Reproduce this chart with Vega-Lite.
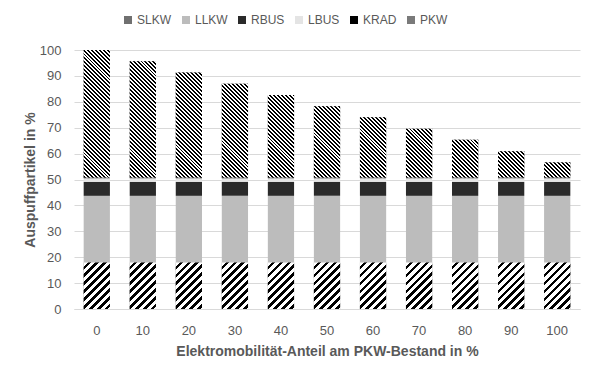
{
  "$schema": "https://vega.github.io/schema/vega-lite/v6.json",
  "width": 506,
  "height": 259,
  "autosize": {"type": "none"},
  "padding": {"left": 74, "top": 50, "right": 17, "bottom": 67},
  "background": "white",
  "params": [
    {"name": "pkwStops", "value": [
      {"offset": 0.000, "color": "#000"}, {"offset": 0.0125, "color": "#000"}, {"offset": 0.0125, "color": "#fff"}, {"offset": 0.025, "color": "#fff"},
      {"offset": 0.025, "color": "#000"}, {"offset": 0.0375, "color": "#000"}, {"offset": 0.0375, "color": "#fff"}, {"offset": 0.050, "color": "#fff"},
      {"offset": 0.050, "color": "#000"}, {"offset": 0.0625, "color": "#000"}, {"offset": 0.0625, "color": "#fff"}, {"offset": 0.075, "color": "#fff"},
      {"offset": 0.075, "color": "#000"}, {"offset": 0.0875, "color": "#000"}, {"offset": 0.0875, "color": "#fff"}, {"offset": 0.100, "color": "#fff"},
      {"offset": 0.100, "color": "#000"}, {"offset": 0.1125, "color": "#000"}, {"offset": 0.1125, "color": "#fff"}, {"offset": 0.125, "color": "#fff"},
      {"offset": 0.125, "color": "#000"}, {"offset": 0.1375, "color": "#000"}, {"offset": 0.1375, "color": "#fff"}, {"offset": 0.150, "color": "#fff"},
      {"offset": 0.150, "color": "#000"}, {"offset": 0.1625, "color": "#000"}, {"offset": 0.1625, "color": "#fff"}, {"offset": 0.175, "color": "#fff"},
      {"offset": 0.175, "color": "#000"}, {"offset": 0.1875, "color": "#000"}, {"offset": 0.1875, "color": "#fff"}, {"offset": 0.200, "color": "#fff"},
      {"offset": 0.200, "color": "#000"}, {"offset": 0.2125, "color": "#000"}, {"offset": 0.2125, "color": "#fff"}, {"offset": 0.225, "color": "#fff"},
      {"offset": 0.225, "color": "#000"}, {"offset": 0.2375, "color": "#000"}, {"offset": 0.2375, "color": "#fff"}, {"offset": 0.250, "color": "#fff"},
      {"offset": 0.250, "color": "#000"}, {"offset": 0.2625, "color": "#000"}, {"offset": 0.2625, "color": "#fff"}, {"offset": 0.275, "color": "#fff"},
      {"offset": 0.275, "color": "#000"}, {"offset": 0.2875, "color": "#000"}, {"offset": 0.2875, "color": "#fff"}, {"offset": 0.300, "color": "#fff"},
      {"offset": 0.300, "color": "#000"}, {"offset": 0.3125, "color": "#000"}, {"offset": 0.3125, "color": "#fff"}, {"offset": 0.325, "color": "#fff"},
      {"offset": 0.325, "color": "#000"}, {"offset": 0.3375, "color": "#000"}, {"offset": 0.3375, "color": "#fff"}, {"offset": 0.350, "color": "#fff"},
      {"offset": 0.350, "color": "#000"}, {"offset": 0.3625, "color": "#000"}, {"offset": 0.3625, "color": "#fff"}, {"offset": 0.375, "color": "#fff"},
      {"offset": 0.375, "color": "#000"}, {"offset": 0.3875, "color": "#000"}, {"offset": 0.3875, "color": "#fff"}, {"offset": 0.400, "color": "#fff"},
      {"offset": 0.400, "color": "#000"}, {"offset": 0.4125, "color": "#000"}, {"offset": 0.4125, "color": "#fff"}, {"offset": 0.425, "color": "#fff"},
      {"offset": 0.425, "color": "#000"}, {"offset": 0.4375, "color": "#000"}, {"offset": 0.4375, "color": "#fff"}, {"offset": 0.450, "color": "#fff"},
      {"offset": 0.450, "color": "#000"}, {"offset": 0.4625, "color": "#000"}, {"offset": 0.4625, "color": "#fff"}, {"offset": 0.475, "color": "#fff"},
      {"offset": 0.475, "color": "#000"}, {"offset": 0.4875, "color": "#000"}, {"offset": 0.4875, "color": "#fff"}, {"offset": 0.500, "color": "#fff"},
      {"offset": 0.500, "color": "#000"}, {"offset": 0.5125, "color": "#000"}, {"offset": 0.5125, "color": "#fff"}, {"offset": 0.525, "color": "#fff"},
      {"offset": 0.525, "color": "#000"}, {"offset": 0.5375, "color": "#000"}, {"offset": 0.5375, "color": "#fff"}, {"offset": 0.550, "color": "#fff"},
      {"offset": 0.550, "color": "#000"}, {"offset": 0.5625, "color": "#000"}, {"offset": 0.5625, "color": "#fff"}, {"offset": 0.575, "color": "#fff"},
      {"offset": 0.575, "color": "#000"}, {"offset": 0.5875, "color": "#000"}, {"offset": 0.5875, "color": "#fff"}, {"offset": 0.600, "color": "#fff"},
      {"offset": 0.600, "color": "#000"}, {"offset": 0.6125, "color": "#000"}, {"offset": 0.6125, "color": "#fff"}, {"offset": 0.625, "color": "#fff"},
      {"offset": 0.625, "color": "#000"}, {"offset": 0.6375, "color": "#000"}, {"offset": 0.6375, "color": "#fff"}, {"offset": 0.650, "color": "#fff"},
      {"offset": 0.650, "color": "#000"}, {"offset": 0.6625, "color": "#000"}, {"offset": 0.6625, "color": "#fff"}, {"offset": 0.675, "color": "#fff"},
      {"offset": 0.675, "color": "#000"}, {"offset": 0.6875, "color": "#000"}, {"offset": 0.6875, "color": "#fff"}, {"offset": 0.700, "color": "#fff"},
      {"offset": 0.700, "color": "#000"}, {"offset": 0.7125, "color": "#000"}, {"offset": 0.7125, "color": "#fff"}, {"offset": 0.725, "color": "#fff"},
      {"offset": 0.725, "color": "#000"}, {"offset": 0.7375, "color": "#000"}, {"offset": 0.7375, "color": "#fff"}, {"offset": 0.750, "color": "#fff"},
      {"offset": 0.750, "color": "#000"}, {"offset": 0.7625, "color": "#000"}, {"offset": 0.7625, "color": "#fff"}, {"offset": 0.775, "color": "#fff"},
      {"offset": 0.775, "color": "#000"}, {"offset": 0.7875, "color": "#000"}, {"offset": 0.7875, "color": "#fff"}, {"offset": 0.800, "color": "#fff"},
      {"offset": 0.800, "color": "#000"}, {"offset": 0.8125, "color": "#000"}, {"offset": 0.8125, "color": "#fff"}, {"offset": 0.825, "color": "#fff"},
      {"offset": 0.825, "color": "#000"}, {"offset": 0.8375, "color": "#000"}, {"offset": 0.8375, "color": "#fff"}, {"offset": 0.850, "color": "#fff"},
      {"offset": 0.850, "color": "#000"}, {"offset": 0.8625, "color": "#000"}, {"offset": 0.8625, "color": "#fff"}, {"offset": 0.875, "color": "#fff"},
      {"offset": 0.875, "color": "#000"}, {"offset": 0.8875, "color": "#000"}, {"offset": 0.8875, "color": "#fff"}, {"offset": 0.900, "color": "#fff"},
      {"offset": 0.900, "color": "#000"}, {"offset": 0.9125, "color": "#000"}, {"offset": 0.9125, "color": "#fff"}, {"offset": 0.925, "color": "#fff"},
      {"offset": 0.925, "color": "#000"}, {"offset": 0.9375, "color": "#000"}, {"offset": 0.9375, "color": "#fff"}, {"offset": 0.950, "color": "#fff"},
      {"offset": 0.950, "color": "#000"}, {"offset": 0.9625, "color": "#000"}, {"offset": 0.9625, "color": "#fff"}, {"offset": 0.975, "color": "#fff"},
      {"offset": 0.975, "color": "#000"}, {"offset": 0.9875, "color": "#000"}, {"offset": 0.9875, "color": "#fff"}, {"offset": 1.000, "color": "#fff"}
    ]},
    {"name": "slkwStops", "value": [
      {"offset": 0.00, "color": "#fff"}, {"offset": 0.05, "color": "#fff"}, {"offset": 0.05, "color": "#000"}, {"offset": 0.095, "color": "#000"}, {"offset": 0.095, "color": "#fff"},
      {"offset": 0.15, "color": "#fff"}, {"offset": 0.15, "color": "#000"}, {"offset": 0.195, "color": "#000"}, {"offset": 0.195, "color": "#fff"},
      {"offset": 0.25, "color": "#fff"}, {"offset": 0.25, "color": "#000"}, {"offset": 0.295, "color": "#000"}, {"offset": 0.295, "color": "#fff"},
      {"offset": 0.35, "color": "#fff"}, {"offset": 0.35, "color": "#000"}, {"offset": 0.395, "color": "#000"}, {"offset": 0.395, "color": "#fff"},
      {"offset": 0.45, "color": "#fff"}, {"offset": 0.45, "color": "#000"}, {"offset": 0.495, "color": "#000"}, {"offset": 0.495, "color": "#fff"},
      {"offset": 0.55, "color": "#fff"}, {"offset": 0.55, "color": "#000"}, {"offset": 0.595, "color": "#000"}, {"offset": 0.595, "color": "#fff"},
      {"offset": 0.65, "color": "#fff"}, {"offset": 0.65, "color": "#000"}, {"offset": 0.695, "color": "#000"}, {"offset": 0.695, "color": "#fff"},
      {"offset": 0.75, "color": "#fff"}, {"offset": 0.75, "color": "#000"}, {"offset": 0.795, "color": "#000"}, {"offset": 0.795, "color": "#fff"},
      {"offset": 0.85, "color": "#fff"}, {"offset": 0.85, "color": "#000"}, {"offset": 0.895, "color": "#000"}, {"offset": 0.895, "color": "#fff"},
      {"offset": 0.95, "color": "#fff"}, {"offset": 0.95, "color": "#000"}, {"offset": 0.995, "color": "#000"}, {"offset": 0.995, "color": "#fff"}, {"offset": 1, "color": "#fff"}
    ]}
  ],
  "data": {
    "values": [
      {"anteil": 0, "typ": "SLKW", "k": 1, "wert": 18.0},
      {"anteil": 0, "typ": "LLKW", "k": 2, "wert": 25.7},
      {"anteil": 0, "typ": "RBUS", "k": 3, "wert": 5.4},
      {"anteil": 0, "typ": "LBUS", "k": 4, "wert": 1.4},
      {"anteil": 0, "typ": "KRAD", "k": 5, "wert": 0.3},
      {"anteil": 0, "typ": "PKW", "k": 6, "wert": 49.2},
      {"anteil": 10, "typ": "SLKW", "k": 1, "wert": 18.0},
      {"anteil": 10, "typ": "LLKW", "k": 2, "wert": 25.7},
      {"anteil": 10, "typ": "RBUS", "k": 3, "wert": 5.4},
      {"anteil": 10, "typ": "LBUS", "k": 4, "wert": 1.4},
      {"anteil": 10, "typ": "KRAD", "k": 5, "wert": 0.3},
      {"anteil": 10, "typ": "PKW", "k": 6, "wert": 44.9},
      {"anteil": 20, "typ": "SLKW", "k": 1, "wert": 18.0},
      {"anteil": 20, "typ": "LLKW", "k": 2, "wert": 25.7},
      {"anteil": 20, "typ": "RBUS", "k": 3, "wert": 5.4},
      {"anteil": 20, "typ": "LBUS", "k": 4, "wert": 1.4},
      {"anteil": 20, "typ": "KRAD", "k": 5, "wert": 0.3},
      {"anteil": 20, "typ": "PKW", "k": 6, "wert": 40.5},
      {"anteil": 30, "typ": "SLKW", "k": 1, "wert": 18.0},
      {"anteil": 30, "typ": "LLKW", "k": 2, "wert": 25.7},
      {"anteil": 30, "typ": "RBUS", "k": 3, "wert": 5.4},
      {"anteil": 30, "typ": "LBUS", "k": 4, "wert": 1.4},
      {"anteil": 30, "typ": "KRAD", "k": 5, "wert": 0.3},
      {"anteil": 30, "typ": "PKW", "k": 6, "wert": 36.2},
      {"anteil": 40, "typ": "SLKW", "k": 1, "wert": 18.0},
      {"anteil": 40, "typ": "LLKW", "k": 2, "wert": 25.7},
      {"anteil": 40, "typ": "RBUS", "k": 3, "wert": 5.4},
      {"anteil": 40, "typ": "LBUS", "k": 4, "wert": 1.4},
      {"anteil": 40, "typ": "KRAD", "k": 5, "wert": 0.3},
      {"anteil": 40, "typ": "PKW", "k": 6, "wert": 31.8},
      {"anteil": 50, "typ": "SLKW", "k": 1, "wert": 18.0},
      {"anteil": 50, "typ": "LLKW", "k": 2, "wert": 25.7},
      {"anteil": 50, "typ": "RBUS", "k": 3, "wert": 5.4},
      {"anteil": 50, "typ": "LBUS", "k": 4, "wert": 1.4},
      {"anteil": 50, "typ": "KRAD", "k": 5, "wert": 0.3},
      {"anteil": 50, "typ": "PKW", "k": 6, "wert": 27.5},
      {"anteil": 60, "typ": "SLKW", "k": 1, "wert": 18.0},
      {"anteil": 60, "typ": "LLKW", "k": 2, "wert": 25.7},
      {"anteil": 60, "typ": "RBUS", "k": 3, "wert": 5.4},
      {"anteil": 60, "typ": "LBUS", "k": 4, "wert": 1.4},
      {"anteil": 60, "typ": "KRAD", "k": 5, "wert": 0.3},
      {"anteil": 60, "typ": "PKW", "k": 6, "wert": 23.2},
      {"anteil": 70, "typ": "SLKW", "k": 1, "wert": 18.0},
      {"anteil": 70, "typ": "LLKW", "k": 2, "wert": 25.7},
      {"anteil": 70, "typ": "RBUS", "k": 3, "wert": 5.4},
      {"anteil": 70, "typ": "LBUS", "k": 4, "wert": 1.4},
      {"anteil": 70, "typ": "KRAD", "k": 5, "wert": 0.3},
      {"anteil": 70, "typ": "PKW", "k": 6, "wert": 18.8},
      {"anteil": 80, "typ": "SLKW", "k": 1, "wert": 18.0},
      {"anteil": 80, "typ": "LLKW", "k": 2, "wert": 25.7},
      {"anteil": 80, "typ": "RBUS", "k": 3, "wert": 5.4},
      {"anteil": 80, "typ": "LBUS", "k": 4, "wert": 1.4},
      {"anteil": 80, "typ": "KRAD", "k": 5, "wert": 0.3},
      {"anteil": 80, "typ": "PKW", "k": 6, "wert": 14.5},
      {"anteil": 90, "typ": "SLKW", "k": 1, "wert": 18.0},
      {"anteil": 90, "typ": "LLKW", "k": 2, "wert": 25.7},
      {"anteil": 90, "typ": "RBUS", "k": 3, "wert": 5.4},
      {"anteil": 90, "typ": "LBUS", "k": 4, "wert": 1.4},
      {"anteil": 90, "typ": "KRAD", "k": 5, "wert": 0.3},
      {"anteil": 90, "typ": "PKW", "k": 6, "wert": 10.1},
      {"anteil": 100, "typ": "SLKW", "k": 1, "wert": 18.0},
      {"anteil": 100, "typ": "LLKW", "k": 2, "wert": 25.7},
      {"anteil": 100, "typ": "RBUS", "k": 3, "wert": 5.4},
      {"anteil": 100, "typ": "LBUS", "k": 4, "wert": 1.4},
      {"anteil": 100, "typ": "KRAD", "k": 5, "wert": 0.3},
      {"anteil": 100, "typ": "PKW", "k": 6, "wert": 5.8}
    ]
  },
  "transform": [
    {"stack": "wert", "groupby": ["anteil"], "sort": [{"field": "k", "order": "ascending"}], "as": ["y0", "y1"]}
  ],
  "encoding": {
    "x": {
      "field": "anteil",
      "type": "ordinal",
      "scale": {"paddingInner": 0.43, "paddingOuter": 0.21},
      "axis": {
        "title": "Elektromobilität-Anteil am PKW-Bestand in %",
        "labelAngle": 0,
        "ticks": false,
        "domainColor": "#d9d9d9",
        "labelPadding": 15,
        "titlePadding": 7
      }
    },
    "y": {
      "field": "y1",
      "type": "quantitative",
      "scale": {"domain": [0, 100]},
      "axis": {
        "title": "Auspuffpartikel in %",
        "values": [0, 10, 20, 30, 40, 50, 60, 70, 80, 90, 100],
        "domain": false,
        "ticks": false,
        "labelPadding": 13,
        "titlePadding": 2
      }
    },
    "y2": {"field": "y0"}
  },
  "layer": [
    {
      "mark": {"type": "bar"},
      "encoding": {
        "color": {
          "field": "typ",
          "type": "nominal",
          "scale": {
            "domain": ["SLKW", "LLKW", "RBUS", "LBUS", "KRAD", "PKW"],
            "range": ["#707070", "#bcbcbc", "#2a2a2a", "#e4e4e4", "#000000", "#7a7a7a"]
          },
          "legend": {
            "orient": "none",
            "legendX": 48,
            "legendY": -36,
            "direction": "horizontal",
            "title": null,
            "symbolType": "square",
            "symbolSize": 64,
            "symbolStrokeWidth": 0,
            "labelFontSize": 12,
            "labelOffset": 3,
            "labelColor": "#595959",
            "labelFont": "Liberation Sans",
            "columnPadding": 8
          }
        }
      }
    },
    {
      "transform": [{"filter": "datum.typ === 'SLKW'"}],
      "mark": {
        "type": "bar",
        "fill": {"expr": "{gradient: 'linear', x1: 0, y1: 0, x2: 79.2*bandwidth('x')/(pow(bandwidth('x'),2)+pow(scale('y',datum.y0)-scale('y',datum.y1),2)), y2: 79.2*(scale('y',datum.y0)-scale('y',datum.y1))/(pow(bandwidth('x'),2)+pow(scale('y',datum.y0)-scale('y',datum.y1),2)), stops: slkwStops}"}
      }
    },
    {
      "transform": [{"filter": "datum.typ === 'PKW'"}],
      "mark": {
        "type": "bar",
        "fill": {"expr": "{gradient: 'linear', x1: 0, y1: 1, x2: 158.4*bandwidth('x')/(pow(bandwidth('x'),2)+pow(scale('y',datum.y0)-scale('y',datum.y1),2)), y2: 1 - 158.4*(scale('y',datum.y0)-scale('y',datum.y1))/(pow(bandwidth('x'),2)+pow(scale('y',datum.y0)-scale('y',datum.y1),2)), stops: pkwStops}"}
      }
    }
  ],
  "config": {
    "view": {"stroke": null},
    "axis": {
      "labelFont": "Liberation Sans",
      "labelFontSize": 13,
      "labelColor": "#595959",
      "titleFont": "Liberation Sans",
      "titleFontSize": 14,
      "titleFontWeight": "bold",
      "titleColor": "#595959",
      "gridColor": "#d9d9d9",
      "gridWidth": 1
    },
    "axisX": {"grid": false}
  }
}
